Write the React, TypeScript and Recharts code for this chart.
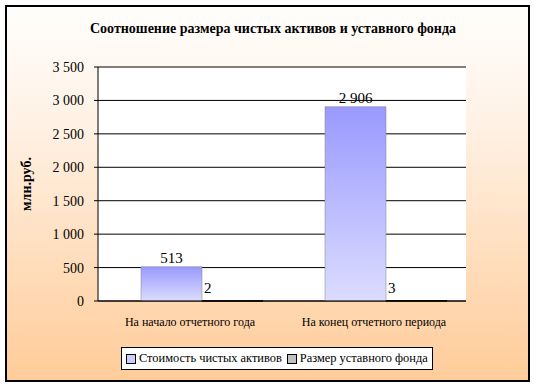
import { Bar, BarChart, CartesianGrid, LabelList, ReferenceLine, XAxis, YAxis } from "recharts"

const categories = ["На начало отчетного года", "На конец отчетного периода"]
const netAssets = [513, 2906]
const charterFund = [2, 3]
const yTicks = [0, 500, 1000, 1500, 2000, 2500, 3000, 3500]

const seriesNames = ["Стоимость чистых активов", "Размер уставного фонда"]

const data = categories.map((name, i) => ({
  name,
  assets: netAssets[i],
  fund: charterFund[i],
}))

const serif = "'Times New Roman', 'Liberation Serif', 'DejaVu Serif', serif"

const fmt = (v: number) => String(v).replace(/\B(?=(\d{3})+(?!\d))/g, " ")

function SmallLabel(props: any) {
  const { x, y, value } = props
  return (
    <text x={x + 2} y={y - 8} fontSize={15} fontFamily={serif} fill="#000">
      {value}
    </text>
  )
}

function LegendBox() {
  return (
    <div
      style={{
        display: "inline-flex",
        alignItems: "center",
        border: "1px solid #000",
        background: "#fff",
        padding: "3px 4px",
        fontFamily: serif,
        fontSize: 12.4,
        whiteSpace: "nowrap",
      }}
    >
      <span style={{ width: 8, height: 8, border: "1px solid #000", background: "#ccccff", marginRight: 3 }} />
      <span style={{ marginRight: 5 }}>{seriesNames[0]}</span>
      <span style={{ width: 8, height: 8, border: "1px solid #000", background: "#c0c0c0", marginRight: 3 }} />
      <span>{seriesNames[1]}</span>
    </div>
  )
}

export default function App() {
  return (
    <div
      style={{
        position: "absolute",
        left: 0,
        top: 0,
        width: 534,
        height: 387,
        background: "#fff",
        fontFamily: serif,
      }}
    >
      <div
        style={{
          position: "absolute",
          left: 5,
          top: 5,
          width: 521,
          height: 373,
          border: "2px solid #000",
          background: "linear-gradient(to bottom, #fffefc 0%, #fff2e6 30%, #ffcc99 100%)",
        }}
      />
      <div
        style={{
          position: "absolute",
          left: 0,
          top: 21,
          width: 546,
          textAlign: "center",
          fontFamily: serif,
          fontWeight: "bold",
          fontSize: 14,
        }}
      >
        Соотношение размера чистых активов и уставного фонда
      </div>
      <div style={{ position: "absolute", left: 0, top: 0 }}>
        <BarChart
          width={534}
          height={387}
          data={data}
          margin={{ top: 67, right: 68, bottom: 66, left: 8 }}
          barCategoryGap={31}
          barGap={0}
        >
          <defs>
            <linearGradient id="assetsFill" x1="0" y1="0" x2="0" y2="1">
              <stop offset="0%" stopColor="#9999ff" />
              <stop offset="100%" stopColor="#dcdcff" />
            </linearGradient>
          </defs>
          <CartesianGrid vertical={false} stroke="#000" fill="#fff" />
          <XAxis
            dataKey="name"
            stroke="#000"
            tickLine={false}
            tick={{ fontSize: 12, fontFamily: serif, fill: "#000" }}
            tickMargin={10}
            height={20}
          />
          <XAxis xAxisId="bars" dataKey="name" hide padding={{ left: 12, right: -12 }} height={20} />
          <YAxis
            domain={[0, 3500]}
            ticks={yTicks}
            stroke="#000"
            tickSize={4}
            tickMargin={10}
            tickFormatter={fmt}
            tick={{ fontSize: 14, fontFamily: serif, fill: "#000" }}
            width={90}
            label={{
              value: "млн.руб.",
              angle: -90,
              position: "insideLeft",
              offset: 18,
              style: { fontFamily: serif, fontWeight: "bold", fontSize: 14, fill: "#000", textAnchor: "middle" },
            }}
          />
          <YAxis yAxisId="r" orientation="right" domain={[0, 3500]} width={0} tick={false} stroke="#808080" />
          <ReferenceLine y={3500} stroke="#808080" />
          <Bar xAxisId="bars" dataKey="assets" name={seriesNames[0]} fill="url(#assetsFill)" stroke="#808080" strokeWidth={0.5} isAnimationActive={false}>
            <LabelList dataKey="assets" position="top" offset={4} formatter={(v: any) => fmt(Number(v))} style={{ fontSize: 15, fontFamily: serif, fill: "#000" }} />
          </Bar>
          <Bar xAxisId="bars" dataKey="fund" name={seriesNames[1]} fill="#c0c0c0" stroke="#000" isAnimationActive={false}>
            <LabelList dataKey="fund" content={<SmallLabel />} />
          </Bar>
        </BarChart>
      </div>
      <div style={{ position: "absolute", left: 121, top: 347 }}>
        <LegendBox />
      </div>
    </div>
  )
}
